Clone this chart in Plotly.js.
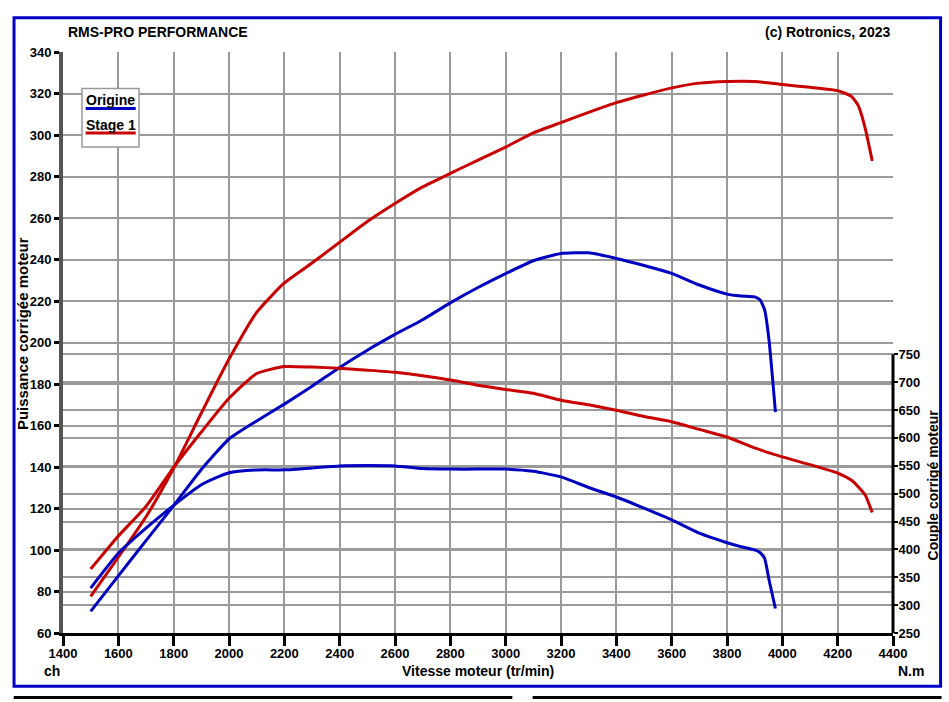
<!DOCTYPE html>
<html>
<head>
<meta charset="utf-8">
<script src="https://cdn.plot.ly/plotly-3.0.1.min.js"></script>
<style>
  body { margin: 0; background: #fff; }
  #chart { width: 949px; height: 702px; }
</style>
</head>
<body>
<div id="chart"></div>
<script>
// values
rpmOrigine = [1500,1600,1700,1800,1900,2000,2100,2200,2300,2400,2500,2600,2700,2800,2900,3000,3100,3200,3300,3400,3500,3600,3700,3800,3850,3900,3920,3936,3952,3975];
puissanceOrigine = [70.4,87.5,104.5,121.4,138.8,153.5,162.2,170.3,178.9,188,196.3,203.9,211,219.1,226.5,233.2,239.4,242.9,243.2,240.5,237.1,233.3,227.7,223.3,222.4,222,220.5,215.7,201,166.5];
coupleOrigine = [330.6,393,438,479,516,537.6,542.5,542.7,546,549.8,550.4,549.8,545,544,544,544,540,530,511,494,474,453,429,412,405,399,394,384,345,294];

rpmStage1 = [1500,1600,1700,1800,1900,2000,2100,2200,2300,2400,2500,2600,2700,2800,2900,3000,3100,3200,3300,3400,3500,3600,3700,3800,3900,4000,4100,4200,4250,4275,4300,4325];
puissanceStage1 = [77.6,96.5,116,139.4,166,192,214.5,228.7,238.3,248.3,258.3,267,275,281.5,287.9,294.2,301,306,310.9,315.6,319.3,322.7,325,325.8,325.8,324.3,323,321.4,318.6,314,303,287.5];
coupleStage1 = [364.7,424,477,547,610.5,671,715.5,728,727,725,721.5,717.7,711.7,704,694.5,687,680,667.6,659.3,649.7,638.4,629,615.3,601.6,582,566,552,537,524,512,497,466];

coupleTicks = [250,300,350,400,450,500,550,600,650,700,750];

BLUE='#0000c0', RED='#c80000', GRID='#9a9a9a';
FONT='"Liberation Sans", Arial, sans-serif';
tickfont={family:FONT, size:13, color:'#000', weight:'bold'};

function courbe(x,y,ax,col){ return {x:x, y:y, yaxis:ax, type:'scatter', mode:'lines', line:{color:col, width:3, shape:'spline', smoothing:0.5}, hoverinfo:'skip'} }

data = [
  courbe(rpmStage1, puissanceStage1, 'y', RED),
  courbe(rpmStage1, coupleStage1, 'y2', RED),
  courbe(rpmOrigine, puissanceOrigine, 'y', BLUE),
  courbe(rpmOrigine, coupleOrigine, 'y2', BLUE)
];

// couple axis only uses the lower part of the plot (250..750 N.m)
frac = 0.4797;

// anchors default to 'auto' which pushes text sideways near the edges, so force center/middle
function txt(t,x,y,o,size){ return Object.assign({text:t, x:x, y:y, xref:'paper', yref:'paper', xanchor:'center', yanchor:'middle', showarrow:false,
  font:{family:FONT, size:size||14, color:'#000', weight:'bold'}}, o||{}) }

layout = {
  width:949, height:702, showlegend:false,
  margin:{l:63.3, r:55.6, t:51.7, b:68.7, pad:0},
  paper_bgcolor:'#fff', plot_bgcolor:'#fff',
  xaxis:{range:[1400,4400], tick0:1400, dtick:200, showgrid:true, gridcolor:GRID, gridwidth:2, zeroline:false,
    showline:true, linecolor:'#000', linewidth:3, ticks:'outside', ticklen:10, tickwidth:3, tickcolor:'#000', tickfont:tickfont, ticklabelstandoff:-4},
  yaxis:{range:[60,340], tick0:60, dtick:20, showgrid:true, gridcolor:GRID, gridwidth:2, zeroline:false,
    showline:true, linecolor:'#555', linewidth:4, ticks:'outside', ticklen:5, tickwidth:3, tickcolor:'#000', tickfont:tickfont},
  yaxis2:{overlaying:'y', side:'right', range:[250, 250+500/frac], tickvals:coupleTicks, showgrid:true, gridcolor:GRID, gridwidth:2,
    zeroline:false, showline:false, ticks:'outside', ticklen:4, tickwidth:2, tickcolor:'#000', tickfont:tickfont, ticklabelstandoff:-2},
  annotations:[
    txt('RMS-PRO PERFORMANCE', 0.004, 1.0347, {xanchor:'left'}),
    txt('(c) Rotronics, 2023', 0.9983, 1.0347, {xanchor:'right'}),
    txt('ch', -0.0136, -0.0648),
    txt('Vitesse moteur (tr/min)', 0.5002, -0.0648),
    txt('N.m', 1.0212, -0.0648),
    txt('Puissance corrigée moteur', -0.0493, 0.5146, {textangle:-90}, 15),
    txt('Couple corrigé moteur', 1.0477, 0.255, {textangle:-90}),
    txt('Origine', 0.0577, 0.917),
    txt('Stage 1', 0.0577, 0.8748)
  ],
  shapes:[
    // right axis line, only along the couple scale
    {type:'line', xref:'paper', yref:'y2', x0:1, x1:1, y0:250, y1:750, line:{color:'#000', width:3}},
    // legend box
    {type:'rect', xref:'paper', yref:'paper', x0:0.0229, x1:0.0916, y0:0.8367, y1:0.937, line:{color:'#999', width:1.5}, fillcolor:'#fff', layer:'above'},
    {type:'line', xref:'paper', yref:'paper', x0:0.0273, x1:0.0876, y0:0.9027, y1:0.9027, line:{color:BLUE, width:3}},
    {type:'line', xref:'paper', yref:'paper', x0:0.0273, x1:0.0876, y0:0.8607, y1:0.8607, line:{color:RED, width:3}},
    // frame + footer bars
    {type:'rect', xref:'paper', yref:'paper', x0:-0.059, x1:1.0573, y0:-0.0918, y1:1.0591, line:{color:'#0000c8', width:3}},
    {type:'line', xref:'paper', yref:'paper', x0:-0.0594, x1:0.5414, y0:-0.1112, y1:-0.1112, line:{color:'#000', width:3}},
    {type:'line', xref:'paper', yref:'paper', x0:0.5658, x1:1.0585, y0:-0.1112, y1:-0.1112, line:{color:'#000', width:3}}
  ]
};

Plotly.newPlot('chart', data, layout, {displayModeBar:false, staticPlot:true});
</script>
</body>
</html>
